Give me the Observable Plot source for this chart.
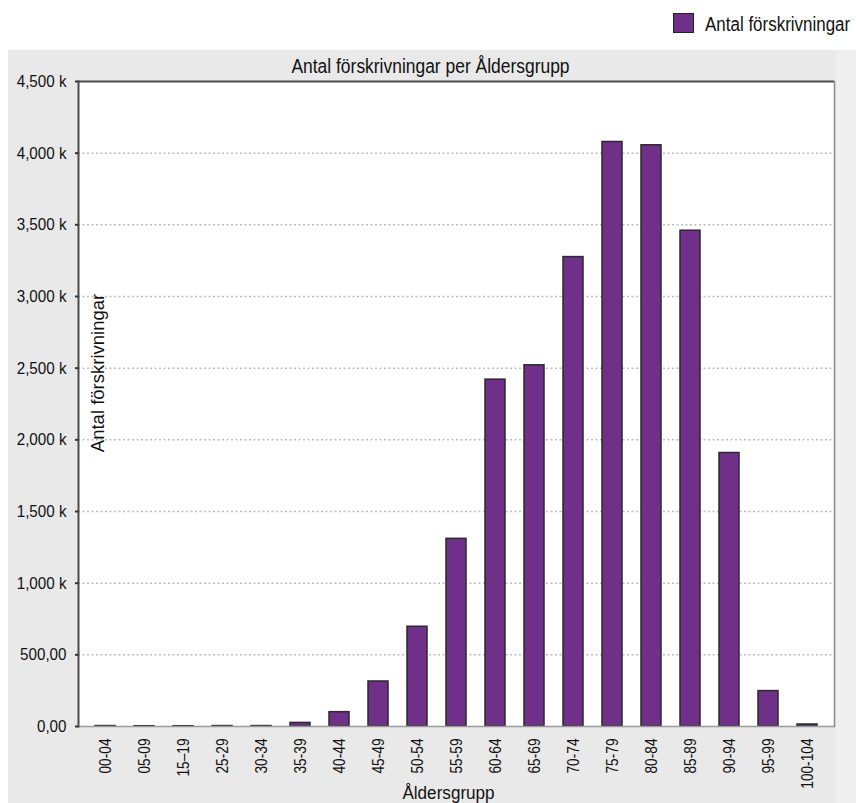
<!DOCTYPE html>
<html>
<head>
<meta charset="utf-8">
<script src="https://cdn.jsdelivr.net/npm/d3@7"></script>
<script src="https://cdn.jsdelivr.net/npm/@observablehq/plot@0.6"></script>
<style>
  body { margin: 0; background: #fff; font-family: "Liberation Sans", Arial, sans-serif; }
  #page { position: relative; width: 856px; height: 803px; }
  #legend { position: relative; height: 50px; }
  #legend .swatch { position: absolute; left: 673px; top: 12.5px; width: 21px; height: 20px; box-sizing: border-box;
    background: #70308a; border: 1.5px solid #222; }
  #legend .label { position: absolute; left: 705px; top: 15px; font-size: 19.5px; line-height: 1; color: #111;
    white-space: nowrap; transform: scaleX(0.87); transform-origin: left center; }
  #panel { margin-left: 8px; width: 848px; height: 753px; overflow: hidden;
    background: linear-gradient(to right, #e9e9e9 0, #e9e9e9 828px, #efefef 828px); }
  #panel svg { display: block; }
</style>
</head>
<body>
<div id="page">
  <div id="legend"><div class="swatch"></div><div class="label">Antal förskrivningar</div></div>
  <div id="panel"></div>
</div>
<script>
// Prescriptions per age group, in thousands
const ageGroups = ["00-04", "05-09", "15–19", "25-29", "30-34", "35-39", "40-44", "45-49", "50-54",
  "55-59", "60-64", "65-69", "70-74", "75-79", "80-84", "85-89", "90-94", "95-99", "100-104"];
const prescriptions = [3, 2, 2, 3, 3, 25, 100, 314, 696, 1309, 2420, 2520, 3275, 4078, 4055, 3459, 1908, 247, 14];

const yTicks = [0, 500, 1000, 1500, 2000, 2500, 3000, 3500, 4000, 4500];
const yTickLabels = ["0,00", "500,00", "1,000 k", "1,500 k", "2,000 k", "2,500 k", "3,000 k", "3,500 k", "4,000 k", "4,500 k"];

const chartTitle = "Antal förskrivningar per Åldersgrupp";
const xTitle = "Åldersgrupp";
const yTitle = "Antal förskrivningar";

const rows = ageGroups.map((g, i) => ({group: g, value: prescriptions[i]}));
const yLabel = new Map(yTicks.map((t, i) => [t, yTickLabels[i]]));

const purple = "#70308a";

const chart = Plot.plot({
  width: 848,
  height: 753,
  marginLeft: 70,
  marginRight: 22,
  marginTop: 31,
  marginBottom: 77,
  style: {background: "transparent", fontFamily: "'Liberation Sans', Arial, sans-serif", color: "#111"},
  x: {domain: ageGroups, paddingInner: 0.5, paddingOuter: 0.25},
  y: {domain: [0, 4500]},
  marks: [
    Plot.frame({fill: "white"}),
    Plot.gridY(yTicks.slice(1, -1), {stroke: "#bdbdbd", strokeOpacity: 1, strokeWidth: 1.5, strokeDasharray: "2,2.5"}),
    Plot.barY(rows, {x: "group", y: "value", fill: purple, stroke: "#2a2a2a", strokeWidth: 1.5}),
    Plot.ruleY([0], {stroke: "#9a9a9a", strokeWidth: 1.5}),
    Plot.ruleY([4500], {stroke: "#4a4a4a", strokeWidth: 2}),
    Plot.frame({anchor: "left", stroke: "#4a4a4a", strokeWidth: 2}),
    Plot.frame({anchor: "right", stroke: "#8a8a8a", strokeWidth: 1.5}),
    Plot.axisY(yTicks, {tickSize: 3, tickPadding: 9, strokeWidth: 2, stroke: "#333", fontSize: 16.7,
      tickFormat: d => yLabel.get(d), label: null}),
    Plot.axisX({tickSize: 0, tickPadding: 12, tickRotate: -90, fontSize: 16.3, label: null}),
    Plot.text([chartTitle], {frameAnchor: "top", lineAnchor: "middle", dx: -26, dy: -15, fontSize: 19.5, fill: "#111"}),
    Plot.text([xTitle], {frameAnchor: "bottom", lineAnchor: "middle", dx: -8, dy: 67, fontSize: 18, fill: "#111"}),
    Plot.text([yTitle], {frameAnchor: "left", textAnchor: "middle", dx: 20, dy: -31, rotate: -90, fontSize: 18.5, fill: "#111"})
  ]
});

document.getElementById("panel").appendChild(chart);

// Narrow the lettering to the condensed face used by the chart
function condense(nodes, ratio) {
  nodes.forEach(node => {
    const w = node.getComputedTextLength();
    node.setAttribute("textLength", w * ratio);
    node.setAttribute("lengthAdjust", "spacingAndGlyphs");
  });
}
condense(chart.querySelectorAll('g[aria-label="y-axis tick label"] text'), 0.91);
condense(chart.querySelectorAll('g[aria-label="x-axis tick label"] text'), 0.84);
const texts = Array.from(chart.querySelectorAll('g[aria-label="text"] text'));
condense(texts.filter(t => t.textContent === chartTitle), 0.894);
condense(texts.filter(t => t.textContent === xTitle), 0.95);
</script>
</body>
</html>
